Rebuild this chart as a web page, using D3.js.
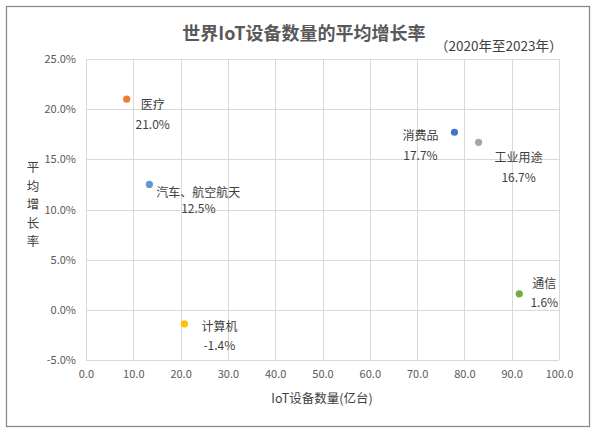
<!DOCTYPE html>
<html><head><meta charset="utf-8">
<script src="https://cdn.jsdelivr.net/npm/d3@7"></script>
<style>
body{margin:0;background:#fff;}
svg text{font-family:"Noto Sans CJK SC","Noto Sans",sans-serif;}
</style></head>
<body><svg id="c" width="600" height="437"></svg>
<script>
const categories = ["医疗","汽车、航空航天","计算机","消费品","工业用途","通信"];
const deviceCounts = [8.6, 13.4, 20.8, 77.9, 83.0, 91.6];
const growthRates = [21.0, 12.5, -1.4, 17.7, 16.7, 1.6];
const colors = ["#ED7D31","#5B9BD5","#FFC000","#4472C4","#A5A5A5","#70AD47"];
const xTicks = [0,10,20,30,40,50,60,70,80,90,100];
const yTicks = [-5,0,5,10,15,20,25];
// label offsets from each point: [dx, dy of name baseline, dy of value baseline]
const labelOffsets = [[26,10,30],[49,13,29],[35,7,26],[-34,8,28],[40,20,40],[25,-6,13]];

const svg = d3.select("#c");
svg.append("rect").attr("x",6.5).attr("y",6.5).attr("width",583).attr("height",420)
  .attr("fill","#fff").attr("stroke","#8c8c8c").attr("stroke-width",1.3);

const x = d3.scaleLinear().domain([0,100]).range([86,559]);
const y = d3.scaleLinear().domain([-5,25]).range([360,59]);

const g = svg.append("g");
g.selectAll("line.vx").data(xTicks).join("line")
  .attr("x1",d=>Math.round(x(d))+0.5).attr("x2",d=>Math.round(x(d))+0.5)
  .attr("y1",y(25)).attr("y2",y(-5)).attr("stroke","#d9d9d9");
g.selectAll("line.hy").data(yTicks).join("line")
  .attr("y1",d=>Math.round(y(d))+0.5).attr("y2",d=>Math.round(y(d))+0.5)
  .attr("x1",x(0)).attr("x2",x(100)).attr("stroke","#d9d9d9");

const xa = svg.append("g").attr("transform",`translate(0,${y(-5)})`)
  .call(d3.axisBottom(x).tickValues(xTicks).tickFormat(d3.format(".1f")).tickSize(0).tickPadding(10));
xa.select(".domain").remove();
xa.selectAll("text").attr("font-size",11).attr("fill","#595959");

const ya = svg.append("g").attr("transform",`translate(${x(0)},0)`)
  .call(d3.axisLeft(y).tickValues(yTicks).tickFormat(d=>d.toFixed(1)+"%").tickSize(0).tickPadding(10));
ya.select(".domain").remove();
ya.selectAll("text").attr("font-size",11).attr("fill","#595959");

svg.append("text").attr("x",304).attr("y",40).attr("text-anchor","middle")
  .attr("font-size",18).attr("font-weight","bold").attr("fill","#595959").text("世界IoT设备数量的平均增长率");
svg.append("text").attr("x",435).attr("y",51).attr("text-anchor","start")
  .attr("font-size",13.5).attr("fill","#404040").text("（2020年至2023年）");

svg.append("text").attr("x",322).attr("y",403).attr("text-anchor","middle")
  .attr("font-size",12.5).attr("fill","#404040").text("IoT设备数量(亿台)");
const yt = svg.append("text").attr("x",33).attr("y",172).attr("text-anchor","middle")
  .attr("font-size",12.5).attr("fill","#404040");
Array.from("平均增长率").forEach((ch,i)=>{
  yt.append("tspan").attr("x",33).attr("dy",i===0?0:18.5).text(ch);
});

const pts = categories.map((c,i)=>({c, xv:deviceCounts[i], yv:growthRates[i], col:colors[i], off:labelOffsets[i]}));
svg.selectAll("circle.p").data(pts).join("circle")
  .attr("cx",d=>x(d.xv)).attr("cy",d=>y(d.yv)).attr("r",3.6).attr("fill",d=>d.col);

const lab = svg.selectAll("g.lab").data(pts).join("g");
lab.append("text").attr("x",d=>x(d.xv)+d.off[0]).attr("y",d=>y(d.yv)+d.off[1])
  .attr("text-anchor","middle").attr("font-size",12).attr("fill","#404040").text(d=>d.c);
lab.append("text").attr("x",d=>x(d.xv)+d.off[0]).attr("y",d=>y(d.yv)+d.off[2])
  .attr("text-anchor","middle").attr("font-size",12).attr("fill","#404040").text(d=>d.yv.toFixed(1)+"%");
</script></body></html>
